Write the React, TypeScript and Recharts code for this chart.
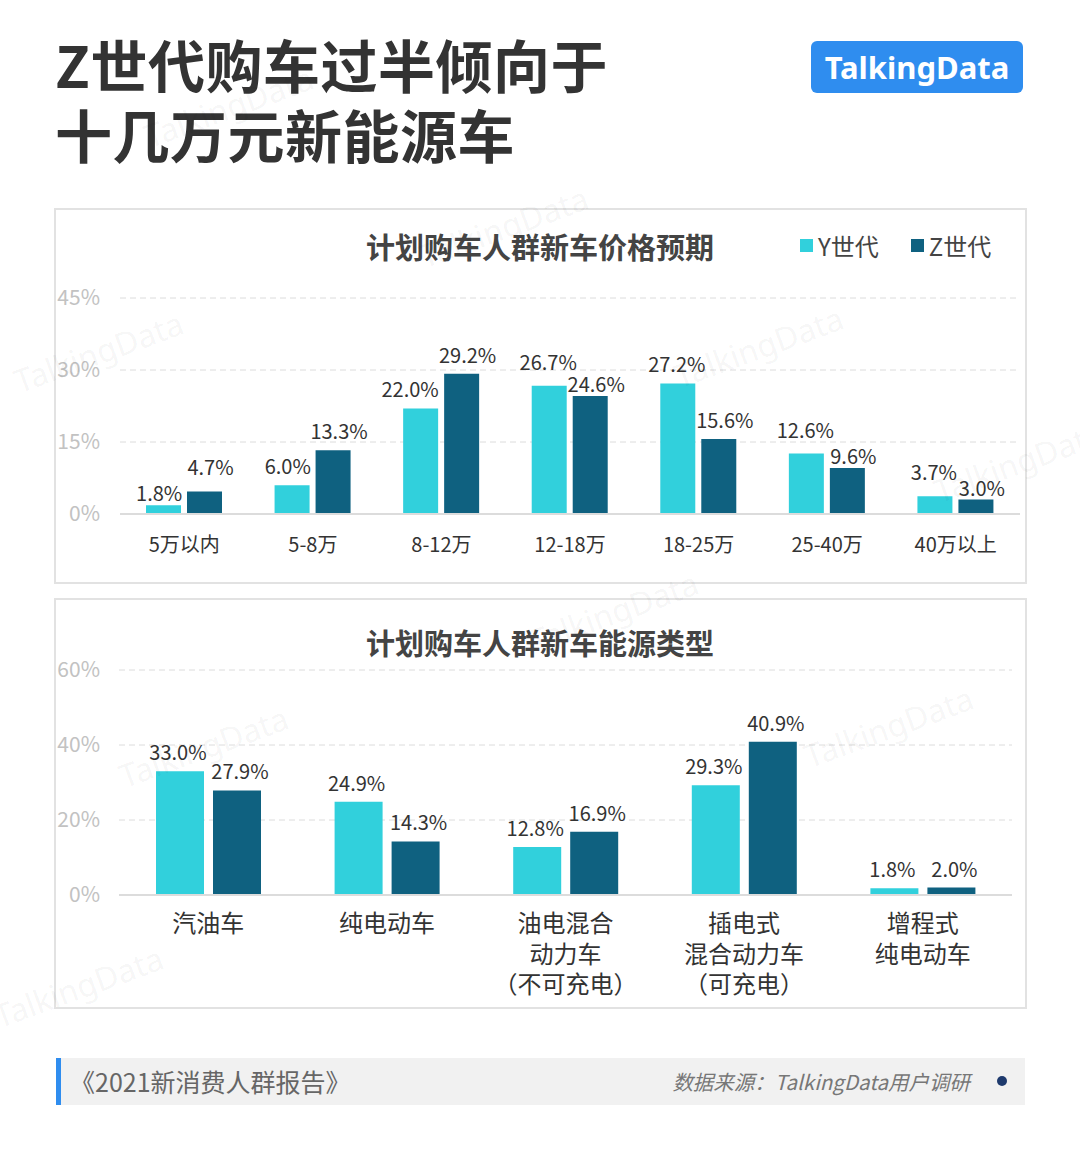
import React from 'react';
import { BarChart, Bar, XAxis, YAxis, CartesianGrid, LabelList } from 'recharts';

const priceCategories = ['5万以内', '5-8万', '8-12万', '12-18万', '18-25万', '25-40万', '40万以上'];
const priceY = [1.8, 6.0, 22.0, 26.7, 27.2, 12.6, 3.7];
const priceZ = [4.7, 13.3, 29.2, 24.6, 15.6, 9.6, 3.0];
const priceTicks = [0, 15, 30, 45];

const energyCategories = ['汽油车', '纯电动车', '油电混合\n动力车\n（不可充电）', '插电式\n混合动力车\n（可充电）', '增程式\n纯电动车'];
const energyY = [33.0, 24.9, 12.8, 29.3, 1.8];
const energyZ = [27.9, 14.3, 16.9, 40.9, 2.0];
const energyTicks = [0, 20, 40, 60];

const priceData = priceCategories.map((name, i) => ({ name, y: priceY[i], z: priceZ[i] }));
const energyData = energyCategories.map((name, i) => ({ name, y: energyY[i], z: energyZ[i] }));

const FONT = '"Noto Sans CJK SC", "Noto Sans", sans-serif';
const Y_COLOR = '#31d0dc';
const Z_COLOR = '#0f6180';

const watermarks = [
  { x: 10, y: 330 },
  { x: 415, y: 205 },
  { x: 670, y: 325 },
  { x: 930, y: 440 },
  { x: 525, y: 590 },
  { x: 115, y: 725 },
  { x: 800, y: 705 },
  { x: -10, y: 965 },
  { x: 140, y: 85 },
];

// value label; in the price chart the labels of two close bars are pushed apart
// vertically, and a Y label next to a taller Z bar is nudged left off that bar
function makeLabel(other: number[], pxPerUnit: number, dx: number, avoid: boolean, leftSide: boolean, gap: number) {
  return (props: any) => {
    const { x, y, width, value, index } = props;
    const text = `${Number(value).toFixed(1)}%`;
    const diff = (Number(value) - other[index]) * pxPerUnit;
    let offset = 11;
    if (avoid && Math.abs(diff) < 25) offset = diff >= 0 ? 16 : 4;
    let shift = dx;
    if (avoid && leftSide && diff < -offset) {
      const w = text.length * 12.4;
      shift = Math.min(dx, width / 2 + gap - 3 - w / 2);
    }
    return (
      <text x={x + width / 2 + shift} y={y - offset} textAnchor="middle" fill="#333" fontSize={20} fontFamily={FONT}>
        {text}
      </text>
    );
  };
}

function PriceTick(props: any) {
  const { x, y, payload } = props;
  return (
    <text x={x} y={y + 36} textAnchor="middle" fill="#333" fontSize={20} fontFamily={FONT}>
      {payload.value}
    </text>
  );
}

function EnergyTick(props: any) {
  const { x, y, payload } = props;
  const lines = String(payload.value).split('\n');
  return (
    <text x={x} y={y} textAnchor="middle" fill="#333" fontSize={24} fontFamily={FONT}>
      {lines.map((l, i) => (
        <tspan key={i} x={x} y={y + 35 + i * 30.5}>{l}</tspan>
      ))}
    </text>
  );
}

const yTickStyle = { fill: '#c2c2c2', fontSize: 21, fontFamily: FONT };

export default function App() {
  return (
    <div style={{ position: 'absolute', left: 0, top: 0, width: 1080, height: 1166, background: '#fff', fontFamily: FONT, overflow: 'hidden' }}>
      {/* heading */}
      <div style={{ position: 'absolute', left: 55, top: 28, fontSize: 57, fontWeight: 700, color: '#333', lineHeight: '70px', letterSpacing: 0.5 }}>
        Z世代购车过半倾向于<br />十几万元新能源车
      </div>
      <div style={{ position: 'absolute', left: 811, top: 41, width: 212, height: 52, background: '#2f8def', borderRadius: 6, color: '#fff', fontSize: 31, fontWeight: 700, fontFamily: '"Noto Sans", sans-serif', textAlign: 'center', lineHeight: '52px' }}>
        TalkingData
      </div>

      {/* panel 1 */}
      <div style={{ position: 'absolute', left: 54, top: 208, width: 969, height: 372, border: '2px solid #e2e2e2' }} />
      <div style={{ position: 'absolute', left: 340, top: 225, width: 400, textAlign: 'center', fontSize: 29, fontWeight: 700, color: '#444' }}>
        计划购车人群新车价格预期
      </div>
      <div style={{ position: 'absolute', left: 800, top: 228, fontSize: 24, color: '#444', display: 'flex', alignItems: 'center' }}>
        <span style={{ width: 13, height: 13, background: Y_COLOR, display: 'inline-block', marginRight: 5 }} />Y世代
        <span style={{ width: 13, height: 13, background: Z_COLOR, display: 'inline-block', marginLeft: 32, marginRight: 5 }} />Z世代
      </div>
      <div style={{ position: 'absolute', left: 0, top: 280 }}>
        <BarChart width={1080} height={300} data={priceData} margin={{ top: 18, right: 60, left: 0, bottom: 0 }} barSize={35} barGap={6}>
          <CartesianGrid vertical={false} stroke="#dcdcdc" strokeDasharray="6 4" />
          <XAxis dataKey="name" height={66} axisLine={{ stroke: '#dcdcdc', strokeWidth: 2 }} tickLine={false} tickSize={0} tick={<PriceTick />} interval={0} />
          <YAxis width={120} domain={[0, 45]} ticks={priceTicks} axisLine={false} tickLine={false} tickSize={0} tickMargin={20} tick={yTickStyle} tickFormatter={(v: number) => `${v}%`} />
          <Bar dataKey="y" fill={Y_COLOR} isAnimationActive={false}>
            <LabelList dataKey="y" content={makeLabel(priceZ, 4.8, -1, true, true, 6)} />
          </Bar>
          <Bar dataKey="z" fill={Z_COLOR} isAnimationActive={false}>
            <LabelList dataKey="z" content={makeLabel(priceY, 4.8, 6, true, false, 6)} />
          </Bar>
        </BarChart>
      </div>

      {/* panel 2 */}
      <div style={{ position: 'absolute', left: 54, top: 598, width: 969, height: 407, border: '2px solid #e2e2e2' }} />
      <div style={{ position: 'absolute', left: 340, top: 621, width: 400, textAlign: 'center', fontSize: 29, fontWeight: 700, color: '#444' }}>
        计划购车人群新车能源类型
      </div>
      <div style={{ position: 'absolute', left: 0, top: 655 }}>
        <BarChart width={1080} height={350} data={energyData} margin={{ top: 15, right: 68, left: 0, bottom: 0 }} barSize={48} barGap={9}>
          <CartesianGrid vertical={false} stroke="#dcdcdc" strokeDasharray="6 4" />
          <XAxis dataKey="name" height={110} axisLine={{ stroke: '#dcdcdc', strokeWidth: 2 }} tickLine={false} tickSize={0} tick={<EnergyTick />} interval={0} />
          <YAxis width={119} domain={[0, 60]} ticks={energyTicks} axisLine={false} tickLine={false} tickSize={0} tickMargin={19} tick={yTickStyle} tickFormatter={(v: number) => `${v}%`} />
          <Bar dataKey="y" fill={Y_COLOR} isAnimationActive={false}>
            <LabelList dataKey="y" content={makeLabel(energyZ, 3.75, -2, false, true, 9)} />
          </Bar>
          <Bar dataKey="z" fill={Z_COLOR} isAnimationActive={false}>
            <LabelList dataKey="z" content={makeLabel(energyY, 3.75, 3, false, false, 9)} />
          </Bar>
        </BarChart>
      </div>

      {/* footer */}
      <div style={{ position: 'absolute', left: 56, top: 1058, width: 969, height: 47, background: '#f1f1f1' }} />
      <div style={{ position: 'absolute', left: 56, top: 1058, width: 5, height: 47, background: '#2f8def' }} />
      <div style={{ position: 'absolute', left: 70, top: 1063, fontSize: 25, color: '#666', lineHeight: '36px' }}>《2021新消费人群报告》</div>
      <div style={{ position: 'absolute', right: 110, top: 1067, fontSize: 20.5, color: '#777', fontStyle: 'italic', lineHeight: '28px' }}>数据来源：TalkingData用户调研</div>
      <div style={{ position: 'absolute', left: 997, top: 1076, width: 10, height: 10, borderRadius: 5, background: '#1e3a6d' }} />

      {/* watermarks */}
      {watermarks.map((w, i) => (
        <div key={i} style={{ position: 'absolute', left: w.x, top: w.y, transform: 'rotate(-20deg)', fontSize: 32, color: 'rgba(0,0,0,0.05)', fontFamily: '"Noto Sans", sans-serif', pointerEvents: 'none', whiteSpace: 'nowrap' }}>
          TalkingData
        </div>
      ))}
    </div>
  );
}
